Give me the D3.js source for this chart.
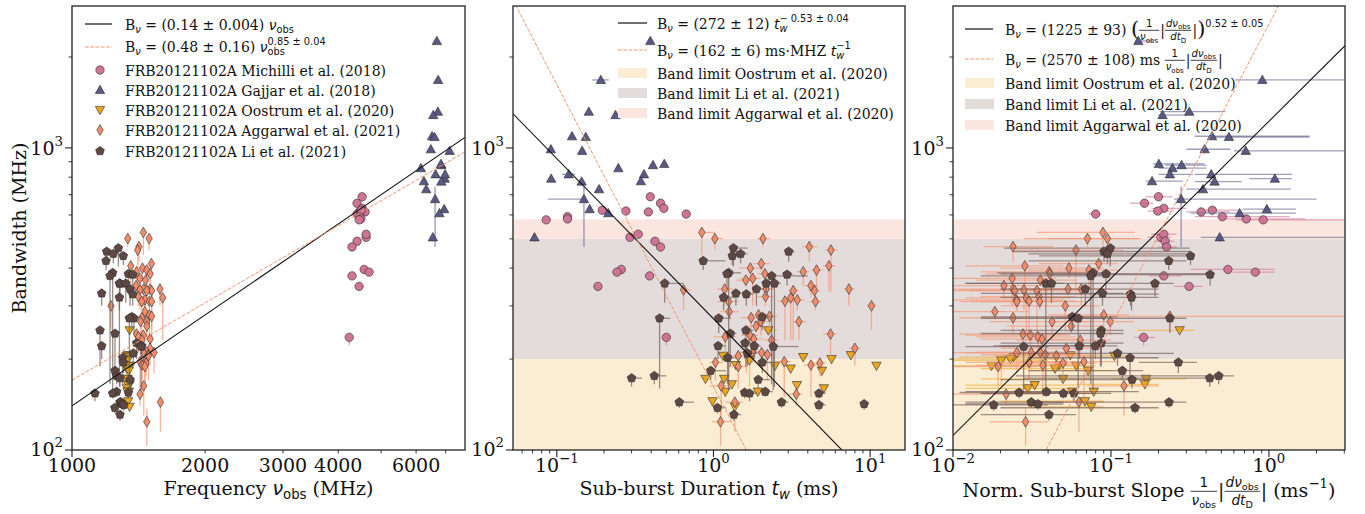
<!DOCTYPE html>
<html>
<head>
<meta charset="utf-8">
<title>FRB20121102A bandwidth relations</title>
<script src="https://d3js.org/d3.v7.min.js"></script>
<style>
  body { margin: 0; background: #fff; }
</style>
</head>
<body>
<div id="chart"></div>
<script>
// legend / category names
const sourceNames = [
  "FRB20121102A Michilli et al. (2018)",
  "FRB20121102A Gajjar et al. (2018)",
  "FRB20121102A Oostrum et al. (2020)",
  "FRB20121102A Aggarwal et al. (2021)",
  "FRB20121102A Li et al. (2021)"
];
const bandNames = ["Band limit Oostrum et al. (2020)", "Band limit Li et al. (2021)", "Band limit Aggarwal et al. (2020)"];
const bandLimits = [[100, 200], [200, 500], [500, 580]];

// Michilli et al. (2018)  bandwidth (MHz), frequency (MHz), duration (ms), norm. slope (1/ms)
const michilliBw    = [689,656,631,604,614,618,622,592,582,578,506,518,491,470,396,388,377,348,236];
const michilliBwLo  = [680,648,622,596,606,610,614,584,574,570,498,510,483,462,388,380,368,338,222];
const michilliFreq  = [4530,4412,4530,4412,4601,4482,4506,4480,4500,4460,4625,4625,4412,4298,4578,4698,4298,4459,4236];
const michilliTw    = [0.395,0.459,0.482,0.67,0.384,0.276,0.195,0.117,0.117,0.0855,0.293,0.331,0.423,0.459,0.258,0.242,0.391,0.183,0.50];
const michilliSlope = [0.20,0.163,0.216,0.080,0.373,0.198,0.438,0.507,0.718,0.92,0.207,0.216,0.22,0.225,0.55,0.82,0.216,0.312,0.161];
const michilliSlopeLo = [0.166,0.132,0.18,0.072,0.30,0.17,0.36,0.34,0.49,0.62,0.17,0.18,0.19,0.20,0.32,0.59,0.175,0.25,0.14];
const michilliSlopeHi = [0.246,0.185,0.30,0.086,0.56,0.25,0.65,1.35,1.7,3.0,0.24,0.26,0.25,0.26,1.09,1.09,0.28,0.38,0.19];

// Gajjar et al. (2018)
const gajjarBw    = [2259,1679,1318,1285,1093,1087,990,978,857,877,885,818,776,791,818,774,730,677,627,608,506];
const gajjarBwLo  = [null,null,null,null,null,null,null,null,null,null,null,null,null,null,null,760,null,470,null,null,490];
const gajjarBwHi  = [null,null,null,null,null,null,null,null,null,null,null,null,null,null,null,null,null,745,null,null,null];
const gajjarFreq  = [6683,6730,6720,6561,6520,6606,6479,7145,6151,6842,6830,6641,6250,6966,6977,6842,6324,6624,6944,6775,6548];
const gajjarTw    = [0.395,0.191,0.160,0.237,0.125,0.153,0.0916,0.145,0.247,0.411,0.485,0.360,0.344,0.092,0.119,0.144,0.186,0.149,0.162,0.213,0.072];
const gajjarTwLo  = [null,0.168,null,null,null,null,null,null,null,null,null,null,null,null,0.108,null,null,0.088,null,null,null];
const gajjarTwHi  = [null,0.215,null,null,null,null,null,null,null,null,null,null,null,null,0.131,null,null,null,null,null,null];
const gajjarSlope = [0.149,0.908,0.313,0.212,0.436,0.558,0.392,0.713,0.245,0.280,0.201,0.236,0.182,1.09,0.431,0.453,0.382,0.278,0.97,0.653,0.488];
const gajjarSlopeLo = [0.142,0.61,0.205,0.20,0.34,0.45,0.30,0.60,0.20,0.22,0.185,0.20,0.166,0.75,0.34,0.34,0.30,0.25,0.68,0.32,0.37];
const gajjarSlopeHi = [0.185,3.0,0.53,0.30,1.81,1.8,0.57,3.0,0.40,0.40,0.39,0.33,0.285,1.4,1.4,0.67,1.38,2.0,1.48,1.48,3.0];

// Oostrum et al. (2020)
const oostrumBw    = [249,206,205,203,200,198,191,190,190,186,183,172,172,165,164,160,156,156,145,139];
const oostrumBwLo  = [null,null,null,null,null,162,null,null,null,null,null,null,null,null,null,null,null,null,null,null];
const oostrumFreq  = [1350,1340,1330,1345,1325,1335,1320,1355,1340,1330,1345,1335,1325,1350,1340,1330,1345,1335,1340,1350];
const oostrumTw    = [2.24,7.53,1.15,3.74,5.67,1.70,1.39,2.47,10.97,3.11,4.92,0.889,1.17,1.31,3.41,5.07,1.19,1.92,0.986,1.37];
const oostrumTwLo  = [2.05,null,null,null,null,null,null,null,null,null,null,null,null,null,null,null,null,null,null,null];
const oostrumTwHi  = [2.55,null,null,null,null,null,null,null,null,null,null,null,null,null,null,null,null,null,null,null];
const oostrumSlope = [0.272,0.0552,0.105,0.0242,0.0231,0.0202,0.0471,0.0175,0.0603,0.0442,0.0718,0.167,0.0497,0.164,0.0329,0.0297,0.0569,0.0778,0.0684,0.075];
const oostrumSlopeLo = [0.147,0.02,0.07,0.011,0.010,0.010,0.018,0.010,0.02,0.015,0.03,0.10,0.015,0.06,0.012,0.012,0.02,0.025,0.02,0.03];
const oostrumSlopeHi = [0.34,0.075,0.14,0.045,0.05,0.04,0.07,0.04,0.08,0.07,0.1,0.30,0.075,0.2,0.06,0.055,0.08,0.1,0.09,0.09];

// Aggarwal et al. (2021)
const aggarwalBw   = [525,501,501,471,459,414,407,400,394,389,383,370,365,350,341,341,341,339,337,337,322,319,314,311,310,310,300,287,280,277,274,266,266,257,242,240,237,233,231,217,211,210,210,207,205,196,195,194,191,189,163,153,144,124];
const aggarwalBwLo = [442,460,470,420,335,390,335,370,340,350,340,300,350,320,300,330,300,291,231,320,300,231,290,231,290,290,250,270,250,250,240,240,231,245,205,220,210,215,200,190,195,180,185,170,190,150,170,175,150,160,130,140,115,103];
const aggarwalBwHi = [null,null,null,null,null,null,null,null,null,null,null,null,null,null,null,null,null,null,null,null,null,null,null,null,null,null,null,null,null,null,null,null,null,null,null,null,null,null,null,null,null,null,null,null,null,null,null,null,null,null,null,null,null,137];
const aggarwalFreq = [1450,1494,1337,1417,1408,1512,1358,1443,1476,1399,1502,1425,1467,1396,1450,1502,1581,1425,1514,1476,1413,1604,1462,1496,1514,1438,1225,1462,1496,1514,1438,1429,1476,1476,1399,1450,1413,1502,1440,1502,1476,1533,1450,1489,1489,1425,1462,1470,1440,1462,1453,1425,1585,1476];
const aggarwalTw   = [0.842,1.02,2.07,4.09,5.62,2.02,5.46,1.72,4.55,3.74,2.13,1.78,1.61,4.19,1.18,2.17,7.32,0.644,3.23,4.42,2.15,3.11,3.43,2.86,1.25,4.48,10.2,1.26,1.94,2.28,1.74,2.01,3.51,1.87,5.59,1.71,1.19,1.81,2.35,7.99,1.79,1.62,2.03,2.21,1.44,2.83,1.03,4.78,4.19,1.44,1.12,3.38,1.37,1.11];
const aggarwalTwLo = [0.84,1.0,1.9,3.7,5.2,1.8,5.0,1.45,4.2,3.4,1.9,1.5,1.4,3.8,1.05,2.0,6.8,0.62,3.0,4.0,1.9,2.8,3.1,2.6,1.05,4.1,9.5,1.1,1.7,2.0,1.5,1.8,3.2,1.6,5.0,1.5,1.0,1.6,2.1,7.3,1.5,1.4,1.8,2.0,1.25,2.5,0.95,4.3,3.8,1.25,0.95,3.0,1.2,0.98];
const aggarwalTwHi = [1.02,1.15,2.3,4.6,6.2,2.3,6.0,2.0,5.0,4.1,2.4,2.0,1.85,4.6,1.35,2.45,8.0,0.72,3.5,4.8,2.4,3.4,3.8,3.2,1.45,4.9,11,1.45,2.2,2.55,2.0,2.25,3.9,2.1,6.1,1.95,1.4,2.05,2.6,8.7,2.05,1.85,2.3,2.45,1.65,3.1,1.15,5.2,4.6,1.65,1.3,3.7,1.55,1.3];
const aggarwalSlope = [0.089,0.095,0.071,0.024,0.060,0.0836,0.0285,0.0542,0.0726,0.0406,0.041,0.0237,0.0357,0.021,0.024,0.0535,0.0649,0.0281,0.034,0.0246,0.035,0.0291,0.0252,0.0303,0.0254,0.0354,0.0514,0.0184,0.090,0.236,0.024,0.099,0.0424,0.0561,0.0277,0.0309,0.0345,0.0366,0.0639,0.0522,0.0357,0.0254,0.0313,0.0384,0.0451,0.0675,0.0303,0.0497,0.037,0.0193,0.121,0.0217,0.0627,0.0288];
const aggarwalSlopeLo = [0.034,0.040,0.028,0.0156,0.025,0.035,0.012,0.02,0.03,0.015,0.016,0.010,0.014,0.010,0.010,0.02,0.025,0.011,0.013,0.010,0.015,0.012,0.010,0.013,0.011,0.015,0.02,0.010,0.04,0.044,0.011,0.045,0.017,0.022,0.011,0.012,0.014,0.015,0.025,0.02,0.014,0.010,0.012,0.015,0.018,0.026,0.012,0.02,0.014,0.010,0.07,0.010,0.03,0.017];
const aggarwalSlopeHi = [0.142,0.15,0.155,0.043,0.12,0.11,0.05,0.09,0.11,0.07,0.075,0.045,0.06,0.035,0.05,0.09,0.10,0.05,0.065,0.04,0.06,0.055,0.05,0.06,0.045,0.07,0.085,0.03,0.13,3.0,0.04,0.14,0.075,0.09,0.05,0.055,0.06,0.065,0.10,0.085,0.06,0.045,0.055,0.065,0.075,0.11,0.05,0.08,0.065,0.035,0.2,0.04,0.09,0.04];

// Li et al. (2021)
const liBw   = [466,454,446,439,423,386,383,381,377,356,356,356,341,330,328,320,276,273,273,249,243,226,221,221,220,209,202,195,183,176,173,171,156,155,154,154,144,144,142,141,138,131];
const liBwLo = [405,420,415,410,394,158,340,350,165,322,162,307,300,300,300,290,250,244,160,189,189,200,200,200,158,190,165,180,170,165,162,160,150,148,145,148,138,138,136,135,132,125];
const liFreq = [1273,1198,1240,1306,1194,1236,1341,1372,1219,1284,1280,1323,1353,1167,1372,1280,1365,1381,1348,1157,1251,1400,1167,1438,1433,1376,1302,1306,1251,1262,1284,1353,1262,1341,1127,1236,1284,1290,1300,1310,1250,1284];
const liTw   = [1.34,3.02,1.49,1.32,0.86,1.25,1.22,2.95,2.35,2.17,2.45,0.488,1.88,1.39,1.62,1.16,2.05,1.08,0.453,1.61,1.28,1.59,1.07,1.82,2.41,1.65,1.23,2.05,0.96,0.419,0.30,1.93,2.14,1.58,1.70,4.71,0.605,2.72,9.16,4.71,1.06,1.35];
const liTwHi = [1.65,3.3,1.65,1.45,1.19,1.5,1.35,3.2,4.0,2.4,2.7,0.644,2.1,1.5,1.8,1.35,2.3,1.3,0.53,1.8,1.4,1.75,1.2,2.0,3.5,1.9,1.4,2.3,1.2,0.5,0.35,2.3,2.4,1.75,1.9,5.2,0.75,3.0,9.8,5.2,1.2,1.5];
const liSlope = [0.099,0.0903,0.095,0.319,0.232,0.077,0.093,0.424,0.0745,0.190,0.0387,0.042,0.0688,0.0884,0.133,0.135,0.0569,0.236,0.062,0.0868,0.0859,0.0868,0.0796,0.063,0.028,0.11,0.132,0.267,0.118,0.481,0.422,0.136,0.039,0.0262,0.0583,0.05,0.0313,0.233,0.0345,0.0181,0.142,0.0405];
const liSlopeLo = [0.021,0.024,0.03,0.035,0.03,0.019,0.02,0.04,0.015,0.06,0.012,0.012,0.02,0.015,0.03,0.02,0.015,0.044,0.015,0.02,0.015,0.02,0.02,0.018,0.012,0.025,0.03,0.15,0.03,0.025,0.028,0.02,0.012,0.011,0.015,0.015,0.012,0.03,0.012,0.010,0.02,0.015];
const liSlopeHi = [0.316,0.32,0.30,0.33,0.3,0.10,0.45,0.45,0.1,0.25,0.05,0.06,0.2,0.12,0.2,0.2,0.11,0.3,0.09,0.12,0.12,0.12,0.11,0.09,0.04,0.25,0.2,0.35,0.16,0.6,0.5,0.18,0.15,0.05,0.1,0.08,0.05,0.3,0.05,0.04,0.2,0.06];

// fit relations from the legends: B = a * x^k
const fitA = [[0.14, 0.48], [272, 162], [1225, 2570]];
const fitK = [[1, 0.85], [-0.53, -1], [0.52, 1]];

const W = 1365, H = 514;
const plotTop = 6, plotBottom = 450;
const SERIF = '"DejaVu Serif", serif', SANS = '"DejaVu Sans", sans-serif';

const svg = d3.select("#chart").append("svg")
  .attr("width", W).attr("height", H).style("display", "block");

const y = d3.scaleLog().domain([100, 2950]).range([plotBottom, plotTop]);

const series = [
  { name: sourceNames[0], shape: "circle", fill: "#cf7494", err: "#d7849f",
    bw: michilliBw, bwLo: michilliBwLo, freq: michilliFreq, tw: michilliTw,
    slope: michilliSlope, sLo: michilliSlopeLo, sHi: michilliSlopeHi },
  { name: sourceNames[1], shape: "tup", fill: "#5a5985", err: "#77769c",
    bw: gajjarBw, bwLo: gajjarBwLo, bwHi: gajjarBwHi, freq: gajjarFreq, tw: gajjarTw,
    twLo: gajjarTwLo, twHi: gajjarTwHi, slope: gajjarSlope, sLo: gajjarSlopeLo, sHi: gajjarSlopeHi },
  { name: sourceNames[2], shape: "tdown", fill: "#eca51f", err: "#f0b440",
    bw: oostrumBw, bwLo: oostrumBwLo, freq: oostrumFreq, tw: oostrumTw,
    twLo: oostrumTwLo, twHi: oostrumTwHi, slope: oostrumSlope, sLo: oostrumSlopeLo, sHi: oostrumSlopeHi },
  { name: sourceNames[3], shape: "diamond", fill: "#f18d6c", err: "#f49a7a",
    bw: aggarwalBw, bwLo: aggarwalBwLo, bwHi: aggarwalBwHi, freq: aggarwalFreq, tw: aggarwalTw,
    twLo: aggarwalTwLo, twHi: aggarwalTwHi, slope: aggarwalSlope, sLo: aggarwalSlopeLo, sHi: aggarwalSlopeHi },
  { name: sourceNames[4], shape: "pent", fill: "#5e4843", err: "#7a6460",
    bw: liBw, bwLo: liBwLo, freq: liFreq, tw: liTw,
    twHi: liTwHi, slope: liSlope, sLo: liSlopeLo, sHi: liSlopeHi }
];

function rowsOf(s) {
  const pick = (arr, i, def) => (arr && arr[i] != null ? arr[i] : def);
  return s.bw.map((b, i) => ({
    bw: b, bwLo: pick(s.bwLo, i, b), bwHi: pick(s.bwHi, i, b),
    freq: s.freq[i], tw: s.tw[i], slope: s.slope[i],
    freqLo: s.freq[i], freqHi: s.freq[i],
    twLo: pick(s.twLo, i, s.tw[i]), twHi: pick(s.twHi, i, s.tw[i]),
    slopeLo: pick(s.sLo, i, s.slope[i]), slopeHi: pick(s.sHi, i, s.slope[i])
  }));
}

function markerPath(shape) {
  switch (shape) {
    case "circle": return "M4.2,0A4.2,4.2 0 1,1 -4.2,0A4.2,4.2 0 1,1 4.2,0Z";
    case "tup": return "M0,-4.8L4.7,3.6L-4.7,3.6Z";
    case "tdown": return "M0,4.8L4.7,-3.6L-4.7,-3.6Z";
    case "diamond": return "M0,-5.4L3.2,0L0,5.4L-3.2,0Z";
    default: {
      const r = 4.6;
      return d3.range(5).map((k, i) => {
        const a = -Math.PI / 2 + k * 2 * Math.PI / 5;
        return (i ? "L" : "M") + (r * Math.cos(a)).toFixed(2) + "," + (r * Math.sin(a)).toFixed(2);
      }).join("") + "Z";
    }
  }
}

// small mathtext-like renderer: sequence of text pieces, sub/superscripts and fractions
function seg(g, x, yy, it, base) {
  const t = g.append("text")
    .attr("x", x).attr("y", yy + (it.dy || 0) * base)
    .attr("font-family", it.sans ? SANS : SERIF)
    .attr("font-size", (it.sc || 1) * base)
    .attr("font-style", it.it ? "italic" : "normal")
    .attr("fill", "#111")
    .text(it.t.replace(/ /g, "\u00A0"));
  return t.node().getComputedTextLength();
}
function rich(g, x, yy, items, base) {
  let cx = x;
  for (const it of items) {
    if (it.frac) {
      const fb = base * 0.72;
      const gn = g.append("g"), gd = g.append("g");
      const wn = rich(gn, 0, 0, it.frac[0], fb);
      const wd = rich(gd, 0, 0, it.frac[1], fb);
      const w = Math.max(wn, wd) + 2;
      gn.attr("transform", `translate(${cx + (w - wn) / 2},${yy - base * 0.52})`);
      gd.attr("transform", `translate(${cx + (w - wd) / 2},${yy + base * 0.42})`);
      g.append("line").attr("x1", cx).attr("x2", cx + w)
        .attr("y1", yy - base * 0.3).attr("y2", yy - base * 0.3)
        .attr("stroke", "#111").attr("stroke-width", 0.8);
      cx += w + 1;
    } else if (it.subsup) {
      const a = seg(g, cx, yy, it.subsup[0], base);
      const b = seg(g, cx, yy, it.subsup[1], base);
      cx += Math.max(a, b);
    } else {
      cx += seg(g, cx, yy, it, base);
    }
  }
  return cx - x;
}
function richCentered(g, cx, yy, items, base) {
  const gg = g.append("g");
  const w = rich(gg, 0, 0, items, base);
  gg.attr("transform", `translate(${cx - w / 2},${yy})`);
}
function richRight(g, rx, yy, items, base) {
  const gg = g.append("g");
  const w = rich(gg, 0, 0, items, base);
  gg.attr("transform", `translate(${rx - w},${yy})`);
}

const sub = t => ({ t, sans: 1, sc: 0.7, dy: 0.22 });
const nu = { t: "ν", sans: 1, it: 1 };
const lgB = [{ t: "B" }, { t: "ν", sans: 1, it: 1, sc: 0.7, dy: 0.22 }];
const fracOne = { frac: [[{ t: "1", sans: 1 }], [nu, sub("obs")]] };
const fracDnu = { frac: [[{ t: "d", sans: 1, it: 1 }, nu, sub("obs")], [{ t: "dt", sans: 1, it: 1 }, sub("D")]] };
const pow10 = e => [{ t: "10" }, { t: (e < 0 ? "−" : "") + Math.abs(e), sc: 0.7, dy: -0.45 }];

const panels = [
  { x0: 72, x1: 465, key: "freq", domain: [1000, 7740],
    ticks: [{ v: 1000, major: 1, label: [{ t: "1000" }] }, { v: 2000, label: [{ t: "2000" }] },
            { v: 3000, label: [{ t: "3000" }] }, { v: 4000, label: [{ t: "4000" }] },
            { v: 5000 }, { v: 6000, label: [{ t: "6000" }] }, { v: 7000 }],
    xlabel: [{ t: "Frequency " }, nu, sub("obs"), { t: " (MHz)" }], xlabelY: 495 },
  { x0: 513, x1: 905, key: "tw", domain: [0.0525, 16.7],
    majors: [-1, 0, 1],
    xlabel: [{ t: "Sub-burst Duration " }, { t: "t", sans: 1, it: 1 }, { t: "w", sans: 1, it: 1, sc: 0.7, dy: 0.22 }, { t: " (ms)" }], xlabelY: 495 },
  { x0: 953, x1: 1345, key: "slope", domain: [0.01, 3.03],
    majors: [-2, -1, 0],
    xlabel: [{ t: "Norm. Sub-burst Slope " }, fracOne, { t: "|" }, fracDnu, { t: "| (ms" }, { t: "−1", sc: 0.7, dy: -0.45 }, { t: ")" }], xlabelY: 497 }
];
const bandColors = ["#fbedd3", "#e4dcdb", "#fbe6df"];

panels.forEach((p, pi) => {
  const x = d3.scaleLog().domain(p.domain).range([p.x0, p.x1]);
  const clipId = "clip" + pi;
  svg.append("clipPath").attr("id", clipId).append("rect")
    .attr("x", p.x0).attr("y", plotTop).attr("width", p.x1 - p.x0).attr("height", plotBottom - plotTop);
  const g = svg.append("g").attr("clip-path", `url(#${clipId})`);

  if (pi > 0) {
    g.selectAll("rect.band").data(bandLimits).join("rect")
      .attr("x", p.x0).attr("width", p.x1 - p.x0)
      .attr("y", d => y(d[1])).attr("height", d => y(d[0]) - y(d[1]))
      .attr("fill", (d, i) => bandColors[i]);
  }

  series.forEach(s => {
    const rows = rowsOf(s);
    const k = p.key;
    g.append("g").selectAll("line")
      .data(rows.filter(r => r.bwLo < r.bw || r.bwHi > r.bw)).join("line")
      .attr("x1", r => x(r[k])).attr("x2", r => x(r[k]))
      .attr("y1", r => y(r.bwLo)).attr("y2", r => y(r.bwHi))
      .attr("stroke", s.err).attr("stroke-opacity", 0.75).attr("stroke-width", 1.3);
    if (pi > 0) {
      g.append("g").selectAll("line")
        .data(rows.filter(r => r[k + "Lo"] < r[k] || r[k + "Hi"] > r[k])).join("line")
        .attr("x1", r => x(r[k + "Lo"])).attr("x2", r => x(r[k + "Hi"]))
        .attr("y1", r => y(r.bw)).attr("y2", r => y(r.bw))
        .attr("stroke", s.err).attr("stroke-opacity", 0.7).attr("stroke-width", 1.3);
    }
    g.append("g").selectAll("path")
      .data(rows).join("path")
      .attr("transform", r => `translate(${x(r[k])},${y(r.bw)})`)
      .attr("d", markerPath(s.shape))
      .attr("fill", s.fill)
      .attr("stroke", "#2a2a2a").attr("stroke-opacity", 0.85).attr("stroke-width", 0.7);
  });

  // fit lines
  const line = d3.line().x(d => x(d[0])).y(d => y(d[1]));
  [0, 1].forEach(j => {
    const a = fitA[pi][j], kk = fitK[pi][j];
    const pts = [p.domain[0], p.domain[1]].map(v => [v, a * Math.pow(v, kk)]);
    g.append("path").attr("d", line(pts)).attr("fill", "none")
      .attr("stroke", j ? "#f4936f" : "#111")
      .attr("stroke-width", j ? 1 : 1.1)
      .attr("stroke-dasharray", j ? "3.7,1.6" : null);
  });

  // frame
  const ax = svg.append("g");
  ax.append("rect").attr("x", p.x0).attr("y", plotTop)
    .attr("width", p.x1 - p.x0).attr("height", plotBottom - plotTop)
    .attr("fill", "none").attr("stroke", "#222").attr("stroke-width", 1.3);

  // y ticks
  [100, 1000].forEach(v => {
    ax.append("line").attr("x1", p.x0 - 7).attr("x2", p.x0).attr("y1", y(v)).attr("y2", y(v))
      .attr("stroke", "#222").attr("stroke-width", 1.1);
  });
  [200, 300, 400, 500, 600, 700, 800, 900, 2000].forEach(v => {
    ax.append("line").attr("x1", p.x0 - 3.5).attr("x2", p.x0).attr("y1", y(v)).attr("y2", y(v))
      .attr("stroke", "#222").attr("stroke-width", 0.9);
  });
  richRight(ax, p.x0 - 9, y(100) + 6, pow10(2), 19);
  richRight(ax, p.x0 - 9, y(1000) + 7, pow10(3), 19);

  // x ticks
  let xt = p.ticks;
  if (!xt) {
    xt = [];
    p.majors.forEach(e => {
      const base = Math.pow(10, e);
      xt.push({ v: base, major: 1, label: pow10(e) });
      for (let m = 2; m <= 9; m++) xt.push({ v: base * m });
    });
    for (let m = 2; m <= 9; m++) xt.push({ v: Math.pow(10, p.majors[0] - 1) * m });
    xt = xt.filter(t => t.v >= p.domain[0] && t.v <= p.domain[1]);
  }
  xt.forEach(t => {
    ax.append("line").attr("x1", x(t.v)).attr("x2", x(t.v))
      .attr("y1", plotBottom).attr("y2", plotBottom + (t.major ? 7 : 3.5))
      .attr("stroke", "#222").attr("stroke-width", t.major ? 1.1 : 0.9);
    if (t.label) richCentered(ax, x(t.v), 472, t.label, 19);
  });

  richCentered(ax, (p.x0 + p.x1) / 2, p.xlabelY, p.xlabel, 19);
});

// y label
svg.append("text")
  .attr("transform", `translate(26,${(plotTop + plotBottom) / 2}) rotate(-90)`)
  .attr("text-anchor", "middle").attr("font-family", SERIF).attr("font-size", 19)
  .attr("fill", "#111").text("Bandwidth (MHz)");

// legends
const LG = 14;
function legendLine(g, x0, x1, yy, dashed) {
  g.append("line").attr("x1", x0).attr("x2", x1).attr("y1", yy).attr("y2", yy)
    .attr("stroke", dashed ? "#f4936f" : "#222").attr("stroke-width", dashed ? 1 : 1.3)
    .attr("stroke-dasharray", dashed ? "3.7,1.6" : null);
}
// panel 1
{
  const g = svg.append("g");
  legendLine(g, 85, 112, 24, false);
  rich(g, 125, 29.5, [...lgB, { t: " = (0.14 ± 0.004) " }, nu, sub("obs")], LG);
  legendLine(g, 85, 112, 47, true);
  rich(g, 125, 52, [...lgB, { t: " = (0.48 ± 0.16) " }, nu,
    { subsup: [sub("obs"), { t: "0.85 ± 0.04", sans: 1, sc: 0.7, dy: -0.5 }] }], LG);
  const rowsY = [70, 90, 110, 130, 151];
  series.forEach((s, i) => {
    g.append("path").attr("transform", `translate(100,${rowsY[i]})`)
      .attr("d", markerPath(s.shape)).attr("fill", s.fill)
      .attr("stroke", "#2a2a2a").attr("stroke-opacity", 0.85).attr("stroke-width", 0.7);
    rich(g, 125, rowsY[i] + 5.5, [{ t: s.name }], LG);
  });
}
// panel 2
{
  const g = svg.append("g");
  legendLine(g, 618, 647, 23, false);
  rich(g, 657, 28.5, [...lgB, { t: " = (272 ± 12) " }, { t: "t", sans: 1, it: 1 },
    { subsup: [{ t: "w", sans: 1, it: 1, sc: 0.7, dy: 0.22 }, { t: "− 0.53 ± 0.04", sans: 1, sc: 0.7, dy: -0.5 }] }], LG);
  legendLine(g, 618, 647, 50, true);
  rich(g, 657, 55.5, [...lgB, { t: " = (162 ± 6) ms·MHZ " }, { t: "t", sans: 1, it: 1 },
    { subsup: [{ t: "w", sans: 1, it: 1, sc: 0.7, dy: 0.22 }, { t: "−1", sans: 1, sc: 0.7, dy: -0.5 }] }], LG);
  [73, 93, 113].forEach((yy, i) => {
    g.append("rect").attr("x", 618).attr("y", yy - 5).attr("width", 29).attr("height", 10).attr("fill", bandColors[i]);
    rich(g, 657, yy + 5.5, [{ t: bandNames[i] }], LG);
  });
}
// panel 3
{
  const g = svg.append("g");
  legendLine(g, 965, 993, 29, false);
  rich(g, 1005, 34.5, [...lgB, { t: " = (1225 ± 93) " }, { t: "(", sc: 1.5, dy: 0.12 }, fracOne, { t: "|" }, fracDnu,
    { t: "|" }, { t: ")", sc: 1.5, dy: 0.12 }, { t: "0.52 ± 0.05", sans: 1, sc: 0.7, dy: -0.55 }], LG);
  legendLine(g, 965, 993, 59, true);
  rich(g, 1005, 64.5, [...lgB, { t: " = (2570 ± 108) ms " }, fracOne, { t: "|" }, fracDnu, { t: "|" }], LG);
  [83, 104, 125].forEach((yy, i) => {
    g.append("rect").attr("x", 965).attr("y", yy - 5).attr("width", 29).attr("height", 10).attr("fill", bandColors[i]);
    rich(g, 1005, yy + 5.5, [{ t: bandNames[i] }], LG);
  });
}
</script>
</body>
</html>
